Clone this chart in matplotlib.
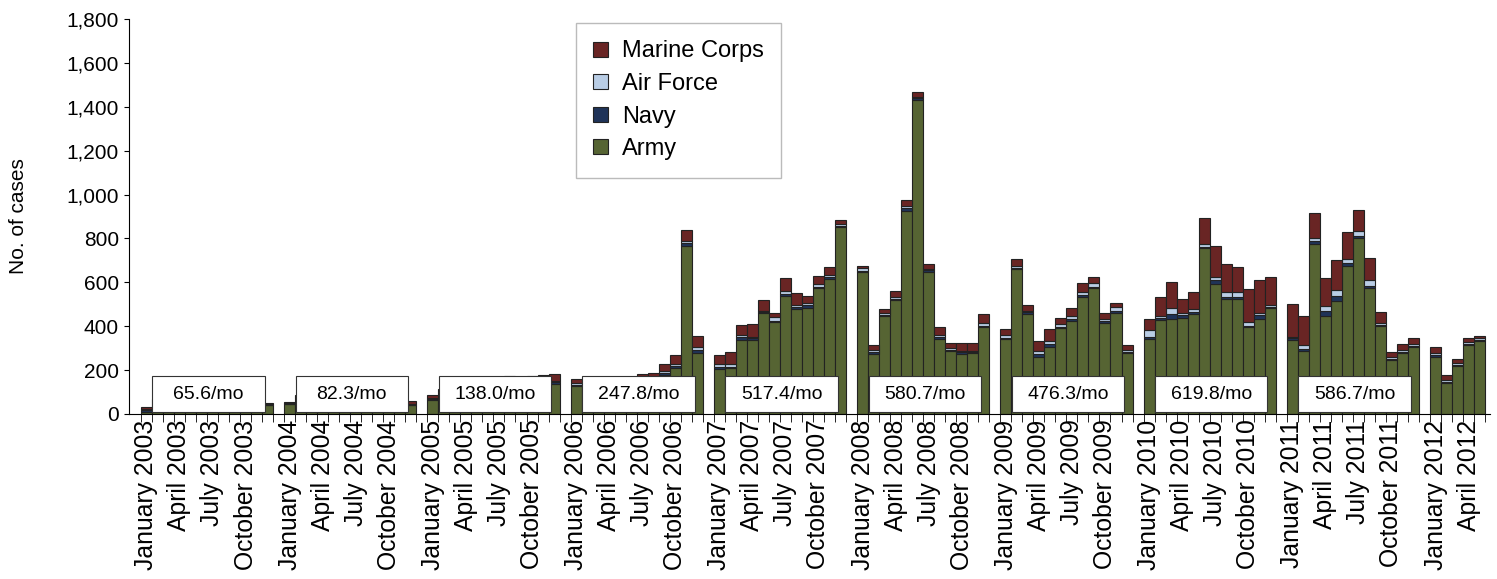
import numpy as np
import matplotlib
matplotlib.use("Agg")
import matplotlib.pyplot as plt
from matplotlib.patches import Rectangle

plt.rcParams["font.family"] = ["Liberation Sans", "DejaVu Sans"]

years = [2003, 2004, 2005, 2006, 2007, 2008, 2009, 2010, 2011, 2012]
months = ["January", "February", "March", "April", "May", "June", "July",
          "August", "September", "October", "November", "December"]

# monthly totals (hidden bars behind boxes estimated from the averages)
total = {
    2003: [30, 70, 70, 70, 70, 70, 70, 70, 70, 70, 70, 50],
    2004: [55, 87, 87, 87, 87, 87, 87, 87, 87, 87, 87, 60],
    2005: [85, 115, 115, 115, 115, 115, 115, 175, 170, 175, 178, 180],
    2006: [160, 150, 150, 150, 150, 150, 180, 185, 230, 270, 840, 355],
    2007: [269, 281, 405, 409, 519, 459, 618, 553, 538, 629, 671, 884],
    2008: [674, 314, 478, 562, 975, 1467, 683, 395, 325, 325, 325, 456],
    2009: [386, 705, 497, 333, 387, 439, 481, 598, 626, 459, 507, 314],
    2010: [431, 535, 603, 526, 554, 895, 767, 682, 670, 568, 612, 624],
    2011: [503, 447, 914, 620, 702, 828, 930, 712, 466, 284, 319, 346],
    2012: [307, 178, 251, 348, 355],
}
marine = {
    2003: [8, 6, 6, 6, 6, 6, 6, 6, 6, 6, 6, 5],
    2004: [6, 8, 8, 8, 8, 8, 8, 8, 8, 8, 8, 15],
    2005: [12, 10, 10, 10, 10, 10, 10, 10, 15, 15, 15, 30],
    2006: [18, 12, 12, 12, 12, 12, 20, 20, 35, 40, 50, 50],
    2007: [43, 55, 46, 56, 49, 18, 58, 56, 33, 36, 38, 20],
    2008: [10, 23, 17, 27, 26, 20, 20, 35, 26, 38, 36, 43],
    2009: [26, 30, 26, 46, 55, 29, 35, 41, 30, 27, 18, 23],
    2010: [49, 87, 118, 67, 77, 122, 144, 128, 115, 147, 150, 125],
    2011: [150, 132, 114, 126, 137, 122, 96, 102, 49, 26, 27, 29],
    2012: [30, 25, 20, 20, 10],
}
airforce = {
    2003: [6, 2, 2, 2, 2, 2, 2, 2, 2, 2, 2, 2],
    2004: [2, 3, 3, 3, 3, 3, 3, 3, 3, 3, 3, 3],
    2005: [5, 4, 4, 4, 4, 4, 4, 4, 4, 5, 5, 6],
    2006: [8, 5, 5, 5, 5, 5, 5, 6, 10, 12, 10, 15],
    2007: [14, 10, 8, 6, 5, 15, 12, 8, 8, 12, 10, 5],
    2008: [10, 10, 8, 10, 10, 8, 8, 8, 8, 6, 5, 10],
    2009: [12, 10, 8, 15, 15, 12, 15, 15, 15, 10, 20, 8],
    2010: [30, 10, 30, 10, 10, 10, 12, 20, 20, 18, 10, 10],
    2011: [8, 20, 12, 23, 27, 20, 23, 26, 10, 8, 8, 6],
    2012: [10, 5, 6, 8, 6],
}
navy = {
    2003: [6, 2, 2, 2, 2, 2, 2, 2, 2, 2, 2, 2],
    2004: [3, 3, 3, 3, 3, 3, 3, 3, 3, 3, 3, 3],
    2005: [5, 4, 4, 4, 4, 4, 4, 4, 5, 5, 5, 8],
    2006: [8, 5, 5, 5, 5, 5, 5, 6, 8, 10, 12, 10],
    2007: [8, 6, 12, 12, 5, 8, 8, 12, 12, 8, 6, 8],
    2008: [5, 8, 8, 6, 15, 10, 8, 12, 6, 8, 8, 8],
    2009: [6, 6, 6, 12, 10, 8, 8, 8, 8, 8, 8, 6],
    2010: [8, 10, 20, 10, 12, 8, 20, 8, 10, 8, 20, 8],
    2011: [10, 10, 15, 23, 23, 10, 10, 8, 8, 6, 6, 6],
    2012: [8, 5, 5, 6, 5],
}
averages = ["65.6/mo", "82.3/mo", "138.0/mo", "247.8/mo", "517.4/mo",
            "580.7/mo", "476.3/mo", "619.8/mo", "586.7/mo"]

c_army = "#566433"
c_navy = "#1f3358"
c_af = "#b9cde5"
c_mar = "#692524"

fig, ax = plt.subplots(figsize=(14.97, 5.79), dpi=100)
fig.subplots_adjust(left=0.086, right=0.995, top=0.967, bottom=0.285)

xs, tot, mar, af, nv, labels = [], [], [], [], [], []
slot = 0
for y in years:
    for i, t in enumerate(total[y]):
        xs.append(slot)
        tot.append(t)
        mar.append(marine[y][i])
        af.append(airforce[y][i])
        nv.append(navy[y][i])
        labels.append(f"{months[i]} {y}" if i % 3 == 0 else "")
        slot += 1
    if y != 2012:
        labels.append("")
        slot += 1

xs = np.array(xs)
tot, mar, af, nv = map(np.array, (tot, mar, af, nv))
army = tot - mar - af - nv

kw = dict(width=1.0, edgecolor="#222222", linewidth=0.8)
ax.bar(xs, army, color=c_army, label="Army", **kw)
ax.bar(xs, nv, bottom=army, color=c_navy, label="Navy", **kw)
ax.bar(xs, af, bottom=army + nv, color=c_af, label="Air Force", **kw)
ax.bar(xs, mar, bottom=army + nv + af, color=c_mar, label="Marine Corps", **kw)

# yearly average boxes
for k, txt in enumerate(averages):
    x0 = k * 13 + 0.55
    ax.add_patch(Rectangle((x0, 8), 10.2, 165, facecolor="white",
                           edgecolor="#333333", linewidth=0.8, zorder=5))
    ax.text(x0 + 5.1, 88, txt, ha="center", va="center", fontsize=14, zorder=6)

ax.set_xlim(-1.6, 121.9)
ax.set_ylim(0, 1800)
ax.set_yticks(range(0, 1801, 200))
ax.set_yticklabels([f"{v:,}" for v in range(0, 1801, 200)], fontsize=15)
ax.set_ylabel("No. of cases", fontsize=15, labelpad=28)

ax.set_xticks(range(slot))
ax.set_xticklabels(labels, rotation=90, fontsize=17.8)
ax.tick_params(axis="x", length=0, pad=4)
ax.set_xticks(np.arange(-0.5, slot, 1), minor=True)
ax.tick_params(axis="x", which="minor", length=6, direction="out")

for s in ["top", "right"]:
    ax.spines[s].set_visible(False)

h, l = ax.get_legend_handles_labels()
ax.legend(h[::-1], l[::-1], loc="upper left", bbox_to_anchor=(0.325, 1.003),
          fontsize=17, frameon=True, fancybox=False, edgecolor="#aaaaaa",
          handlelength=0.6, handleheight=0.6, borderpad=0.75, labelspacing=0.45,
          handletextpad=0.6, borderaxespad=0.2)

fig.savefig("out.png", dpi=100)
